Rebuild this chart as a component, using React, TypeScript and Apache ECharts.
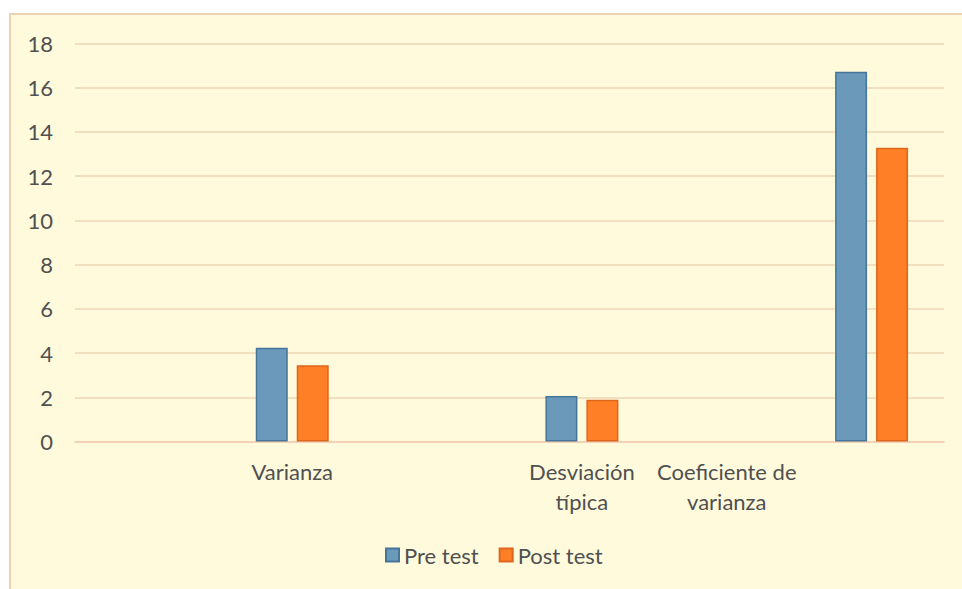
import React, { useEffect, useRef } from "react";
import * as echarts from "echarts";

const categories = ["", "Varianza", "", "Desviación\ntípica", "Coeficiente de\nvarianza", ""];
const preTest = [null, 4.24, null, 2.06, null, 16.72];
const postTest = [null, 3.45, null, 1.89, null, 13.29];
const seriesNames = ["Pre test", "Post test"];

const FONT = "Lato";
const TEXT = "#505050";

export default function App() {
  const ref = useRef<HTMLDivElement>(null);
  useEffect(() => {
    if (!ref.current) return;
    const chart = echarts.init(ref.current, undefined, { renderer: "svg" });
    chart.setOption({
      animation: false,
      backgroundColor: "#FFFADC",
      textStyle: { fontFamily: FONT },
      grid: { left: 64, right: 18, top: 28.5, bottom: 147.5, containLabel: false },
      legend: {
        left: 369,
        top: 524,
        itemWidth: 13,
        itemHeight: 13,
        itemGap: 20,
        icon: "rect",
        textStyle: { fontFamily: FONT, fontSize: 22, color: TEXT, lineHeight: 22 },
        data: seriesNames,
      },
      xAxis: {
        type: "category",
        data: categories,
        axisTick: { show: false },
        axisLine: { show: true, lineStyle: { color: "#F2CDB4", width: 1.5 } },
        axisLabel: {
          interval: 0,
          margin: 15,
          fontFamily: FONT,
          fontSize: 22,
          lineHeight: 30,
          color: TEXT,
        },
      },
      yAxis: {
        type: "value",
        min: 0,
        max: 18,
        interval: 2,
        axisLine: { show: false },
        axisTick: { show: false },
        axisLabel: { margin: 22, fontFamily: FONT, fontSize: 22, color: TEXT },
        splitLine: { lineStyle: { color: "#EDD6B6", width: 1.5 } },
      },
      series: [
        {
          name: seriesNames[0],
          type: "bar",
          data: preTest,
          barWidth: 32,
          barGap: "28%",
          itemStyle: { color: "#6A99BA", borderColor: "#45769A", borderWidth: 1.5 },
        },
        {
          name: seriesNames[1],
          type: "bar",
          data: postTest,
          barWidth: 32,
          barGap: "28%",
          itemStyle: { color: "#FE7F26", borderColor: "#DD661D", borderWidth: 1.5 },
        },
      ],
    });
    return () => chart.dispose();
  }, []);
  return (
    <div
      style={{
        position: "absolute",
        left: 9,
        top: 13,
        width: 953,
        height: 576,
        boxSizing: "border-box",
        borderLeft: "2px solid #EDD3B2",
        borderTop: "2px solid #EDD3B2",
        background: "#FFFADC",
      }}
    >
      <div ref={ref} style={{ width: 951, height: 574 }} />
    </div>
  );
}
